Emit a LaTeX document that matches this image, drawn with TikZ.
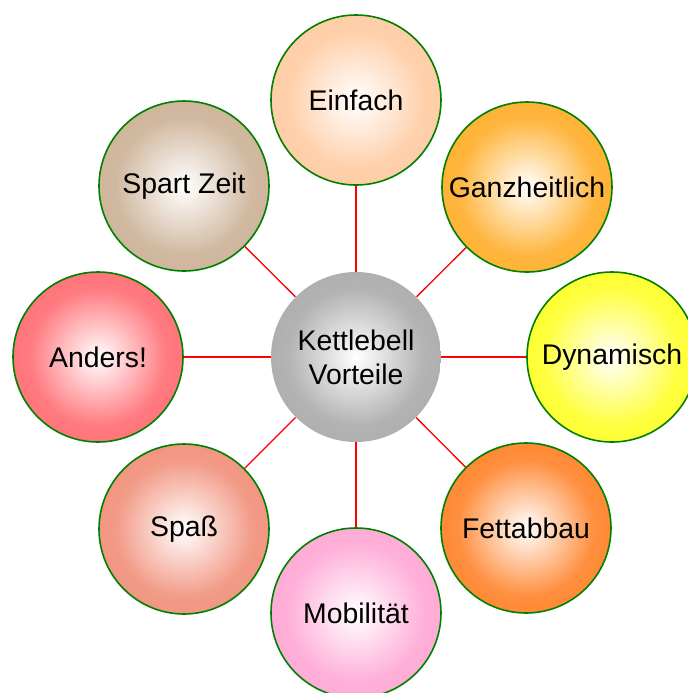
\documentclass[tikz,border=0pt]{standalone}
\usepackage{fontspec}
\setmainfont{Liberation Sans}
\usepackage{tikz}
\usetikzlibrary{positioning}
\definecolor{einfach}{HTML}{FFC190}
\definecolor{ganz}{HTML}{FF9E00}
\definecolor{dynamisch}{HTML}{FFFF00}
\definecolor{fett}{HTML}{FF6A00}
\definecolor{mobil}{HTML}{FF96CC}
\definecolor{spass}{HTML}{EE7A60}
\definecolor{anders}{HTML}{FF5058}
\definecolor{zeit}{HTML}{C2A282}
\definecolor{kern}{HTML}{9A9A9A}
\colorlet{bubbleouter}{kern}
\colorlet{bubblemid}{kern!60!white}
\pgfdeclareradialshading[bubbleouter,bubblemid]{bubble}{\pgfpointorigin}{color(0bp)=(white); color(20bp)=(bubblemid); color(50bp)=(bubbleouter); color(51bp)=(bubbleouter)}

\begin{document}
\begin{tikzpicture}[
    x=0.5pt,y=-0.5pt,
    every node/.style={font=\fontsize{14.2}{17}\selectfont},
    bubble/.style={circle,minimum size=85pt,inner sep=0pt,align=center,
        /utils/exec={\colorlet{bubbleouter}{#1}\colorlet{bubblemid}{#1!75!white}},shading=bubble},
    sat/.style={bubble=#1,draw=green!50!black,line width=0.8pt},
    link/.style={red,line width=0.65pt}
]
\clip (0,0) rectangle (688,693);

% Center
\node[bubble=kern] (kb) at (356,357) {Kettlebell\\Vorteile};

% Satellites
\node[sat=einfach]   (ein)  at (356,100) {Einfach};
\node[sat=ganz]      (ganz) at (527,187) {Ganzheitlich};
\node[sat=dynamisch] (dyn)  at (612,357) {Dynamisch};
\node[sat=fett]      (fett) at (526,528) {Fettabbau};
\node[sat=mobil]     (mob)  at (356,613) {Mobilität};
\node[sat=spass]     (spa)  at (184,529) {Spaß};
\node[sat=anders]    (and)  at (98,357)  {Anders!};
\node[sat=zeit]      (zeit) at (184,186) {Spart Zeit};

\draw[link] (kb) -- (ein);
\draw[link] (kb) -- (ganz);
\draw[link] (kb) -- (dyn);
\draw[link] (kb) -- (fett);
\draw[link] (kb) -- (mob);
\draw[link] (kb) -- (spa);
\draw[link] (kb) -- (and);
\draw[link] (kb) -- (zeit);
\end{tikzpicture}
\end{document}
